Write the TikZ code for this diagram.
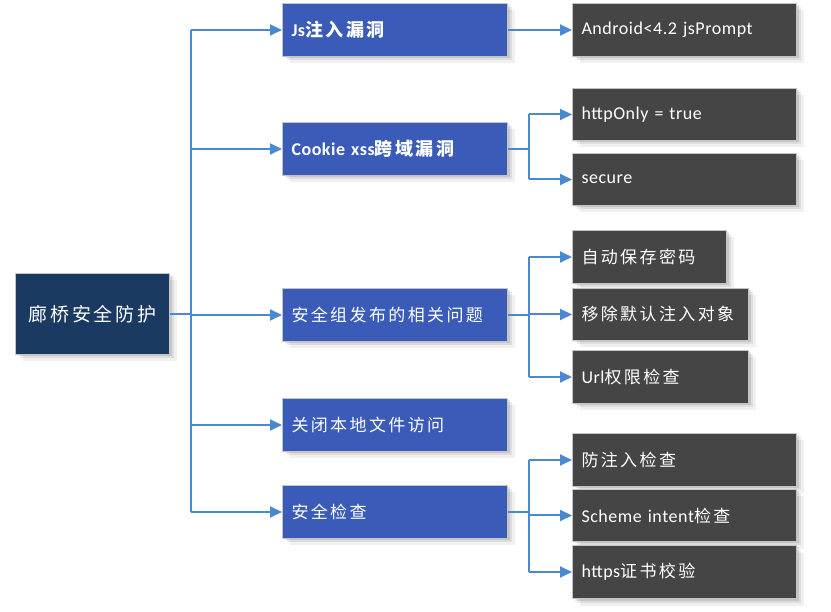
\documentclass[tikz,border=0pt]{standalone}
\usepackage{fontspec}
\setmainfont{Carlito}[LetterSpace=3]
\newfontfamily\cjkf{Noto Sans CJK SC}[LetterSpace=14]
\usetikzlibrary{arrows.meta,shadows}
\definecolor{rootc}{HTML}{1B3A62}
\definecolor{onec}{HTML}{3A5CB8}
\definecolor{twoc}{HTML}{454545}
\definecolor{bordc}{HTML}{C4C4C4}
\definecolor{linec}{HTML}{4A88D0}
\begin{document}
\begin{tikzpicture}[x=1pt,y=-1pt,
  softshadow/.style={
    drop shadow={shadow xshift=2pt,shadow yshift=-2pt,opacity=0.10,fill=black},
    drop shadow={shadow xshift=4pt,shadow yshift=-4pt,opacity=0.08,fill=black},
    drop shadow={shadow xshift=7pt,shadow yshift=-7pt,opacity=0.06,fill=black}},
  basebox/.style={draw=bordc, line width=1pt, text=white, inner xsep=9pt, inner ysep=0pt,
    anchor=north west, font=\fontsize{18}{21}\selectfont, softshadow},
  rootbox/.style={basebox, fill=rootc, align=center, font=\fontsize{19}{22}\selectfont},
  onebox/.style={basebox, fill=onec, align=left, minimum width=225pt, text width=207pt, minimum height=53pt},
  twobox/.style={basebox, fill=twoc, align=left, minimum height=53pt},
  ln/.style={draw=linec, line width=2pt},
  arr/.style={ln, -{Triangle[length=12pt,width=11pt]}}
]
\useasboundingbox[fill=white] (0,0) rectangle (831,612);

% root
\node[rootbox, minimum width=154pt, minimum height=81pt] (root) at (15,273) {{\cjkf 廊桥安全防护}};

% level one
\node[onebox] (js)  at (282,3)   {\bfseries Js{\cjkf 注入漏洞}};
\node[onebox] (ck)  at (282,122) {\bfseries Cookie xss{\cjkf 跨域漏洞}};
\node[onebox] (grp) at (282,288) {{\cjkf\fontsize{17}{20}\selectfont 安全组发布的相关问题}};
\node[onebox] (fil) at (282,398) {{\cjkf\fontsize{17}{20}\selectfont 关闭本地文件访问}};
\node[onebox] (chk) at (282,485) {{\cjkf\fontsize{17}{20}\selectfont 安全检查}};

% level two
\node[twobox, minimum width=224pt, text width=206pt] (and) at (572,3) {Android<4.2 jsPrompt};
\node[twobox, minimum width=224pt, text width=206pt, minimum height=52pt] (hto) at (572,88) {httpOnly = true};
\node[twobox, minimum width=224pt, text width=206pt, minimum height=52pt] (sec) at (572,153) {secure};
\node[twobox, minimum width=154pt, text width=136pt] (pwd) at (572,230) {{\cjkf\fontsize{17}{20}\selectfont 自动保存密码}};
\node[twobox, minimum width=176pt, text width=158pt, minimum height=52pt] (rmv) at (572,288) {{\cjkf\fontsize{17}{20}\selectfont 移除默认注入对象}};
\node[twobox, minimum width=176pt, text width=158pt] (url) at (572,350) {Url{\cjkf\fontsize{17}{20}\selectfont 权限检查}};
\node[twobox, minimum width=224pt, text width=206pt] (inj) at (572,433) {{\cjkf\fontsize{17}{20}\selectfont 防注入检查}};
\node[twobox, minimum width=224pt, text width=206pt, minimum height=52pt] (sch) at (572,489) {Scheme intent{\cjkf\fontsize{17}{20}\selectfont 检查}};
\node[twobox, minimum width=224pt, text width=206pt] (crt) at (572,545) {https{\cjkf\fontsize{17}{20}\selectfont 证书校验}};

% trunk
\coordinate (tx) at (191,0);
\draw[ln] (root.east) -- (root.east -| tx);
\draw[ln] (tx |- js.west) -- (tx |- chk.west);
\foreach \n in {js,ck,grp,fil,chk} {
  \draw[arr] (tx |- \n.west) -- (\n.west);
}

% level two connectors
\coordinate (bx) at (529,0);
\draw[arr] (js.east) -- (and.west);

\draw[ln] (ck.east) -- (ck.east -| bx);
\draw[ln] (bx |- hto.west) -- (bx |- sec.west);
\draw[arr] (bx |- hto.west) -- (hto.west);
\draw[arr] (bx |- sec.west) -- (sec.west);

\draw[ln] (grp.east) -- (grp.east -| bx);
\draw[ln] (bx |- pwd.west) -- (bx |- url.west);
\draw[arr] (bx |- pwd.west) -- (pwd.west);
\draw[arr] (bx |- rmv.west) -- (rmv.west);
\draw[arr] (bx |- url.west) -- (url.west);

\draw[ln] (chk.east) -- (chk.east -| bx);
\draw[ln] (bx |- inj.west) -- (bx |- crt.west);
\draw[arr] (bx |- inj.west) -- (inj.west);
\draw[arr] (bx |- sch.west) -- (sch.west);
\draw[arr] (bx |- crt.west) -- (crt.west);
\end{tikzpicture}
\end{document}
